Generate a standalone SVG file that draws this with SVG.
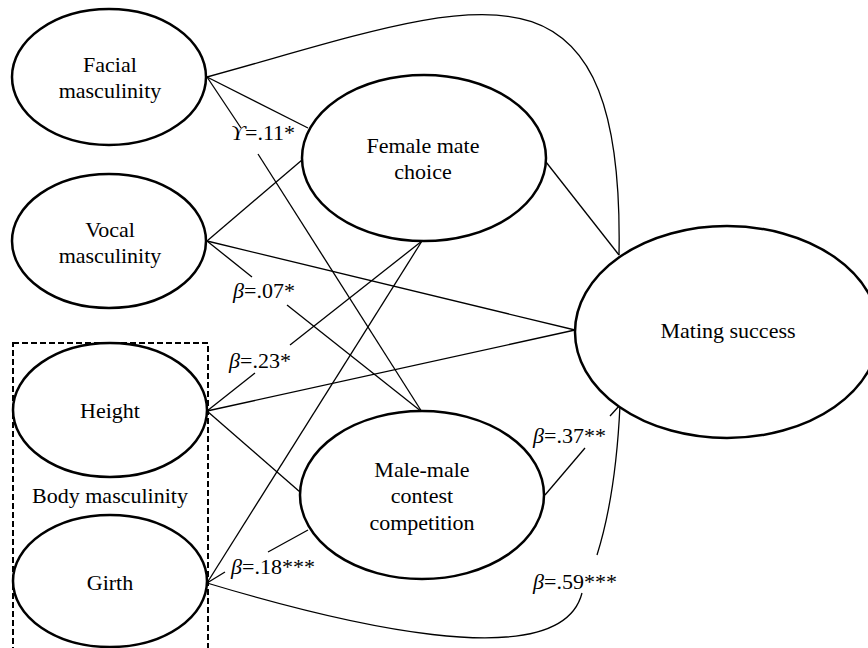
<svg xmlns="http://www.w3.org/2000/svg" width="868" height="648" viewBox="0 0 868 648">
<style>
.node{fill:#fff;stroke:#000;stroke-width:2.5}
text{font-family:'Liberation Serif','Times New Roman','DejaVu Serif',serif;font-size:22px;fill:#000}
.t{text-anchor:middle}
.g{font-style:italic}
.c{fill:none;stroke:#000;stroke-width:1.3}
</style>
<rect width="868" height="648" fill="#fff"/>
<g id="connectors">
<path class="c" d="M207,77 C470,5 625,-70 619,255"/>
<line class="c" x1="207" y1="77" x2="308" y2="128"/>
<line class="c" x1="207" y1="77" x2="241" y2="128"/>
<line class="c" x1="258" y1="154" x2="422" y2="412"/>
<line class="c" x1="546" y1="162" x2="619" y2="255"/>
<line class="c" x1="207" y1="241" x2="302" y2="160"/>
<line class="c" x1="207" y1="241" x2="575" y2="330"/>
<line class="c" x1="207" y1="241" x2="252" y2="277"/>
<line class="c" x1="287" y1="305" x2="422" y2="412"/>
<line class="c" x1="207" y1="411" x2="255" y2="373"/>
<line class="c" x1="290" y1="345" x2="422" y2="241"/>
<line class="c" x1="207" y1="411" x2="575" y2="330"/>
<line class="c" x1="207" y1="411" x2="300" y2="492"/>
<line class="c" x1="207" y1="583" x2="422" y2="241"/>
<line class="c" x1="308" y1="530" x2="268" y2="552"/>
<line class="c" x1="225" y1="572" x2="207" y2="583"/>
<path class="c" d="M207,583 C330,620 560,680 582,593"/>
<path class="c" d="M597,555 C608,520 617,470 620,405"/>
<line class="c" x1="545" y1="495" x2="585" y2="448"/>
<line class="c" x1="610" y1="416" x2="620" y2="405"/>
</g>
<g id="body-masculinity">
<rect x="13" y="343" width="195" height="320" fill="none" stroke="#000" stroke-width="2" stroke-dasharray="6,3"/>
<text class="t" x="110" y="503">Body masculinity</text>
</g>
<g id="facial">
<ellipse class="node" cx="109" cy="77" rx="97" ry="68"/>
<text class="t" x="110" y="72">Facial</text>
<text class="t" x="110" y="98">masculinity</text>
</g>
<g id="vocal">
<ellipse class="node" cx="109" cy="241" rx="97" ry="67"/>
<text class="t" x="110" y="237">Vocal</text>
<text class="t" x="110" y="263">masculinity</text>
</g>
<g id="height">
<ellipse class="node" cx="110" cy="410" rx="97" ry="67"/>
<text class="t" x="110" y="418">Height</text>
</g>
<g id="girth">
<ellipse class="node" cx="110" cy="581" rx="97" ry="66"/>
<text class="t" x="110" y="590">Girth</text>
</g>
<g id="female">
<ellipse class="node" cx="424" cy="158" rx="122" ry="83"/>
<text class="t" x="423" y="153">Female mate</text>
<text class="t" x="423" y="179">choice</text>
</g>
<g id="male">
<ellipse class="node" cx="422" cy="495" rx="122" ry="84"/>
<text class="t" x="422" y="477">Male-male</text>
<text class="t" x="422" y="503">contest</text>
<text class="t" x="422" y="530">competition</text>
</g>
<g id="mating">
<ellipse class="node" cx="727" cy="332" rx="152" ry="106"/>
<text class="t" x="728" y="338">Mating success</text>
</g>
<g id="labels">
<text x="231" y="140"><tspan class="g">ϒ</tspan>=.11*</text>
<text x="233" y="298"><tspan class="g">β</tspan>=.07*</text>
<text x="229" y="368"><tspan class="g">β</tspan>=.23*</text>
<text x="231" y="574"><tspan class="g">β</tspan>=.18***</text>
<text x="533" y="443"><tspan class="g">β</tspan>=.37**</text>
<text x="533" y="589"><tspan class="g">β</tspan>=.59***</text>
</g>
</svg>
